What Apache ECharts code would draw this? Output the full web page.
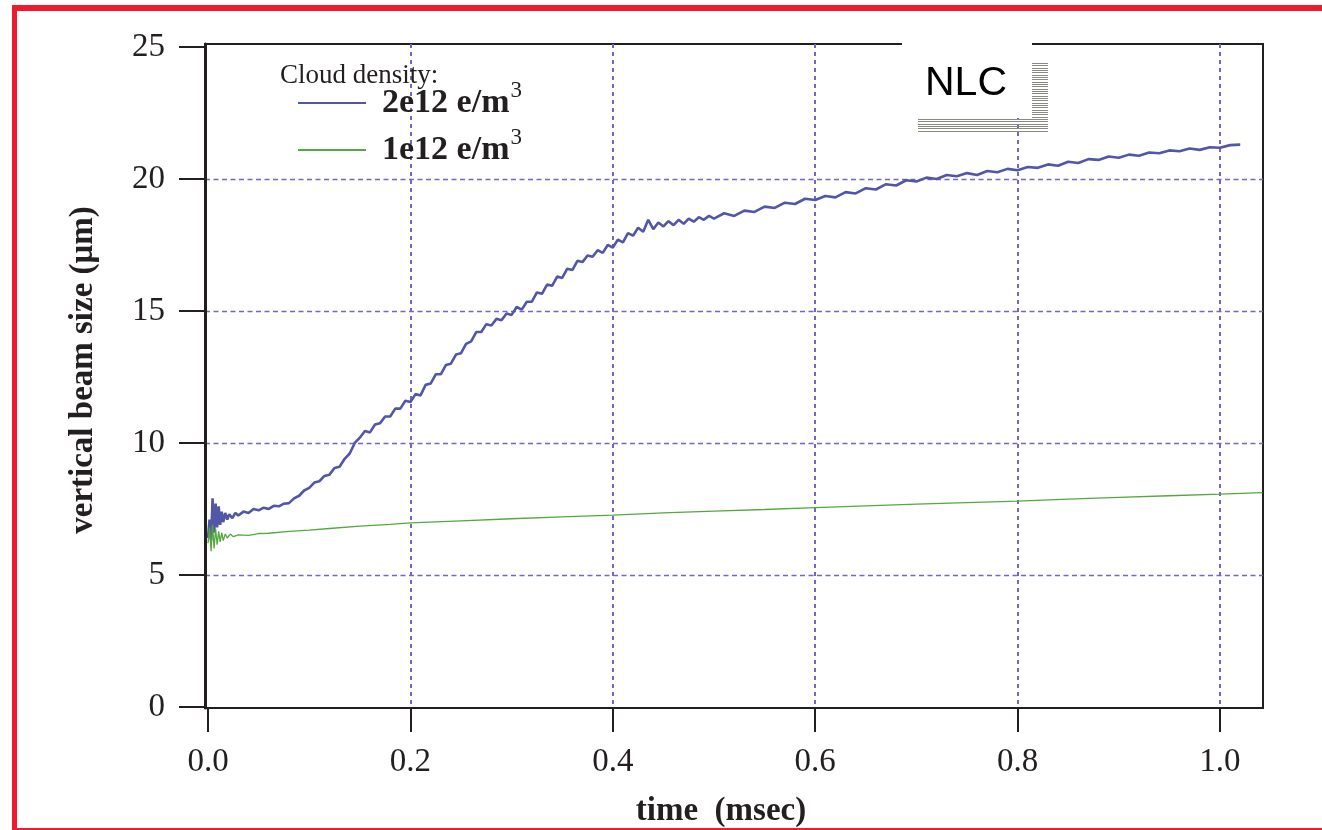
<!DOCTYPE html>
<html>
<head>
<meta charset="utf-8">
<script src="https://cdn.jsdelivr.net/npm/echarts@6/dist/echarts.min.js"></script>
<style>
html,body{margin:0;padding:0;background:#fff;}
#chart{width:1322px;height:830px;}
</style>
</head>
<body>
<div id="chart"></div>
<script>
// ---- data ----
const xTickLabels = [0.0, 0.2, 0.4, 0.6, 0.8, 1.0];
const yTickLabels = [0, 5, 10, 15, 20, 25];
const xGridValues = [0.2, 0.4, 0.6, 0.8, 1.0];
const yGridValues = [5, 10, 15, 20];

const seriesNames = ['2e12 e/m3', '1e12 e/m3'];

const blueTime = [0.000,0.0015,0.003,0.0045,0.006,0.0075,0.009,0.0105,0.012,0.0135,0.015,0.017,0.019,0.021,0.024,0.027,
  0.030,0.035,0.040,0.045,0.050,0.055,0.060,0.065,0.070,0.075,0.080,0.085,0.090,0.095,
  0.100,0.105,0.110,0.115,0.120,0.125,0.130,0.135,0.140,0.145,0.150,0.155,0.160,0.165,0.170,0.175,0.180,0.185,0.190,0.195,
  0.200,0.205,0.210,0.215,0.220,0.225,0.230,0.235,0.240,0.245,0.250,0.255,0.260,0.265,0.270,0.275,0.280,0.285,0.290,0.295,
  0.300,0.305,0.310,0.315,0.320,0.325,0.330,0.335,0.340,0.345,0.350,0.355,0.360,0.365,0.370,0.375,0.380,0.385,0.390,0.395,
  0.400,0.405,0.410,0.415,0.420,0.425,0.430,0.435,0.440,0.445,0.450,0.455,0.460,0.465,0.470,0.475,0.480,0.485,0.490,0.495,
  0.500,0.510,0.520,0.530,0.540,0.550,0.560,0.570,0.580,0.590,0.600,0.610,0.620,0.630,0.640,0.650,0.660,0.670,0.680,0.690,
  0.700,0.710,0.720,0.730,0.740,0.750,0.760,0.770,0.780,0.790,0.800,0.810,0.820,0.830,0.840,0.850,0.860,0.870,0.880,0.890,
  0.900,0.910,0.920,0.930,0.940,0.950,0.960,0.970,0.980,0.990,1.000,1.010,1.020];
const blueSize = [6.4,7.1,6.3,7.9,6.6,7.7,6.8,7.6,6.9,7.4,7.0,7.35,7.1,7.3,7.15,7.35,
  7.25,7.4,7.35,7.5,7.45,7.55,7.5,7.62,7.6,7.7,7.72,7.9,8.0,8.2,
  8.3,8.5,8.55,8.75,8.8,9.05,9.1,9.4,9.6,10.0,10.2,10.45,10.4,10.7,10.75,11.0,11.0,11.3,11.3,11.6,
  11.55,11.85,11.8,12.2,12.25,12.6,12.6,12.95,13.0,13.35,13.4,13.75,13.85,14.2,14.2,14.5,14.45,14.7,14.65,14.9,
  14.85,15.15,15.05,15.35,15.35,15.7,15.65,16.0,15.95,16.3,16.25,16.6,16.55,16.9,16.85,17.1,17.05,17.3,17.2,17.5,
  17.4,17.7,17.6,17.95,17.85,18.15,18.0,18.45,18.1,18.35,18.2,18.4,18.25,18.45,18.3,18.5,18.38,18.55,18.45,18.6,
  18.5,18.7,18.6,18.8,18.75,18.95,18.9,19.1,19.05,19.25,19.2,19.35,19.3,19.5,19.45,19.65,19.6,19.8,19.75,19.95,
  19.9,20.05,20.0,20.15,20.1,20.22,20.15,20.3,20.25,20.38,20.33,20.45,20.42,20.55,20.5,20.65,20.6,20.75,20.72,20.85,
  20.8,20.92,20.88,21.0,20.97,21.08,21.05,21.15,21.1,21.2,21.18,21.28,21.3];

const greenTime = [0.000,0.0015,0.003,0.0045,0.006,0.0075,0.009,0.0105,0.012,0.0135,0.015,0.017,0.019,0.022,0.025,
  0.03,0.04,0.05,0.06,0.08,0.10,0.12,0.15,0.18,0.20,0.25,0.30,0.35,0.40,0.45,0.50,0.55,0.60,0.65,0.70,0.75,0.80,0.85,0.90,0.95,1.00,1.042];
const greenSize = [6.2,6.8,5.9,6.9,6.0,6.75,6.15,6.65,6.25,6.6,6.3,6.55,6.4,6.55,6.45,
  6.52,6.5,6.57,6.58,6.65,6.7,6.76,6.85,6.92,6.97,7.05,7.13,7.2,7.27,7.35,7.42,7.48,7.55,7.62,7.68,7.74,7.8,7.87,7.94,8.0,8.06,8.12];

// ---- styling ----
const INK = '#231f20';
const GRIDC = '#7467bd';
const SERIF = '"Liberation Serif", "Times New Roman", serif';
const SANS = '"Liberation Sans", Arial, sans-serif';
const RED = '#ef1a2d';
const BLUE = '#5156a6';
const GREEN = '#55a840';

function zip(t, v) { return t.map((x, i) => [x, v[i]]); }

const chart = echarts.init(document.getElementById('chart'), null, {renderer: 'canvas'});

// decorative hatch shadow of NLC label
const hatch = [];
for (let i = 0; i < 24; i++) {
  const y = Math.round(63 + i * 7 / 3);
  if (y > 118) break;
  hatch.push({type: 'rect', shape: {x: 1032, y: y, width: 16, height: 1}, style: {fill: '#8a8a80'}, z: 101});
}
for (let i = 0; i < 6; i++) {
  const y = Math.round(119 + i * 7 / 3);
  hatch.push({type: 'rect', shape: {x: 918, y: y, width: 130, height: 1}, style: {fill: '#8a8a80'}, z: 101});
}

const option = {
  backgroundColor: '#fff',
  animation: false,
  title: {
    text: 'Cloud density:',
    left: 275, top: 57,
    textStyle: {fontFamily: SERIF, fontSize: 27, fontWeight: 'normal', color: INK}
  },
  legend: {
    orient: 'vertical',
    left: 298, top: 79, padding: 0,
    itemWidth: 68, itemHeight: 2,
    itemGap: 6,
    data: [
      {name: seriesNames[0], icon: 'rect', itemStyle: {color: BLUE}},
      {name: seriesNames[1], icon: 'rect', itemStyle: {color: GREEN}}
    ],
    formatter: function (name) { return '{b|' + name.replace(/3$/, '') + '}{s|3}'; },
    textStyle: {
      padding: [0, 0, 0, 11],
      rich: {
        b: {fontFamily: SERIF, fontSize: 34, fontWeight: 'bold', color: INK, lineHeight: 48},
        s: {fontFamily: SERIF, fontSize: 23, color: INK, verticalAlign: 'top', lineHeight: 22, padding: [0, 0, 0, 1]}
      }
    }
  },
  grid: {
    left: 205, top: 44, width: 1058, height: 664,
    show: true, borderColor: INK, borderWidth: 2, backgroundColor: '#fff',
    containLabel: false, outerBoundsMode: 'none'
  },
  xAxis: [{
    type: 'value', min: -0.003, max: 1.0425, position: 'bottom',
    axisLine: {show: true, onZero: false, lineStyle: {color: INK, width: 2}},
    axisTick: {show: true, inside: false, length: 24, customValues: xTickLabels, lineStyle: {color: INK, width: 2}},
    axisLabel: {show: true, customValues: xTickLabels, margin: 38, formatter: v => v.toFixed(1),
      fontFamily: SERIF, fontSize: 33, color: INK},
    splitLine: {show: false},
    name: 'time  (msec)', nameLocation: 'middle', nameGap: 87,
    nameTextStyle: {fontFamily: SERIF, fontSize: 33, fontWeight: 'bold', color: INK, padding: [0, 26, 0, 0]}
  }, {
    type: 'value', min: -0.003, max: 1.0425, position: 'top',
    axisLine: {show: false, onZero: false}, axisLabel: {show: false},
    axisTick: {show: false, customValues: xGridValues},
    splitLine: {show: true, lineStyle: {color: GRIDC, width: 2, type: [4, 4]}}
  }],
  yAxis: [{
    type: 'value', min: -0.038, max: 25.11, position: 'left',
    axisLine: {show: true, onZero: false, lineStyle: {color: INK, width: 3}},
    axisTick: {show: true, inside: false, length: 26, customValues: yTickLabels, lineStyle: {color: INK, width: 2}},
    axisLabel: {show: true, customValues: yTickLabels, margin: 40, formatter: v => String(Math.round(v)),
      fontFamily: SERIF, fontSize: 33, color: INK},
    splitLine: {show: false},
    name: 'vertical beam size (μm)', nameLocation: 'middle', nameGap: 105,
    nameTextStyle: {fontFamily: SERIF, fontSize: 33, fontWeight: 'bold', color: INK, padding: [0, 0, 0, 12]}
  }, {
    type: 'value', min: -0.038, max: 25.11, position: 'right',
    axisLine: {show: false, onZero: false}, axisLabel: {show: false},
    axisTick: {show: false, customValues: yGridValues},
    splitLine: {show: true, lineStyle: {color: GRIDC, width: 1.3, type: [5, 3.5]}}
  }],
  series: [{
    name: seriesNames[0], type: 'line', xAxisIndex: 0, yAxisIndex: 0,
    data: zip(blueTime, blueSize), symbol: 'none', showSymbol: false,
    lineStyle: {color: BLUE, width: 2.6}, itemStyle: {color: BLUE}, z: 3
  }, {
    name: seriesNames[1], type: 'line', xAxisIndex: 0, yAxisIndex: 0,
    data: zip(greenTime, greenSize), symbol: 'none', showSymbol: false,
    lineStyle: {color: GREEN, width: 1.3}, itemStyle: {color: GREEN}, z: 4
  }],
  graphic: [
    {type: 'rect', shape: {x: 902, y: 38, width: 130, height: 80}, style: {fill: '#fff'}, z: 100},
    {type: 'text', x: 925, y: 63, style: {text: 'NLC', fontFamily: SANS, fontSize: 41, fill: '#000'}, z: 102},
    ...hatch,
    {type: 'rect', shape: {x: 12, y: 5, width: 1310, height: 6}, style: {fill: RED}, z: 110},
    {type: 'rect', shape: {x: 12, y: 5, width: 5, height: 825}, style: {fill: RED}, z: 110},
    {type: 'rect', shape: {x: 12, y: 828, width: 1310, height: 2}, style: {fill: RED}, z: 110}
  ]
};
chart.setOption(option);
</script>
</body>
</html>
